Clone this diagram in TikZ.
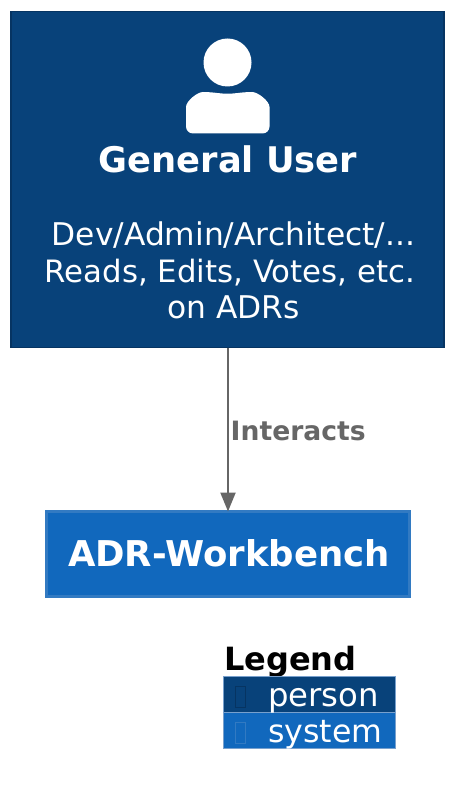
\documentclass[tikz,border=0pt]{standalone}
\usepackage{fontspec}
\setmainfont{DejaVu Sans}
\usetikzlibrary{arrows.meta}
\definecolor{personblue}{RGB}{8,66,122}
\definecolor{personedge}{RGB}{6,52,98}
\definecolor{systemblue}{RGB}{17,104,189}
\definecolor{systemedge}{RGB}{50,122,194}
\definecolor{keyedge}{RGB}{120,160,205}
\definecolor{linegray}{RGB}{102,102,102}
\tikzset{
    boxnode/.style={inner sep=0pt, outer sep=0pt, minimum height=#1},
    textnode/.style={inner sep=0pt, outer sep=0pt, text=white, align=center},
    keynode/.style={inner sep=0pt, outer sep=0pt, anchor=base west, text=white},
}
\begin{document}
\begin{tikzpicture}[x=1pt,y=-1pt]
    \useasboundingbox (0,0) rectangle (455,791);
    \fill[white] (0,0) rectangle (455,791);

    %#1
    \node[boxnode=336pt, minimum width=433pt, draw=personedge, fill=personblue, line width=1.2pt] (user) at (227.5,179.5) {};
    \fill[white] (227.5,62.5) circle (24);
    \fill[white, rounded corners=7pt] (186,133.5) -- (186,114) to [out=90,in=180] (210,92) to [out=-8,in=188] (245,92) to [out=0,in=90] (269.5,114) -- (269.5,133.5) -- cycle;
    \node[textnode, font=\bfseries\fontsize{35.3}{35.3}\selectfont, anchor=base] (usertitle) at (228,173) {General User};
    \node[textnode, font=\fontsize{31.3}{31.3}\selectfont, anchor=base] (userrole) at (233.5,246) {Dev/Admin/Architect/...};
    \node[textnode, font=\fontsize{30.8}{30.8}\selectfont, anchor=base] (useract) at (230,282) {Reads, Edits, Votes, etc.};
    \node[textnode, font=\fontsize{31.3}{31.3}\selectfont, anchor=base] (useradr) at (233.5,318) {on ADRs};

    %#2
    \node[boxnode=85pt, minimum width=363pt, draw=systemedge, fill=systemblue, line width=3pt] (workbench) at (228,554) {};
    \node[textnode, font=\bfseries\fontsize{35.5}{35.5}\selectfont, anchor=base] (workbenchtitle) at (229,566.5) {ADR-Workbench};

    %#3
    \draw[linegray, line width=2.2pt, -{Triangle[length=19pt,width=15pt]}] (user.south -| workbench.north) -- (workbench.north);
    \node[inner sep=0pt, text=linegray, font=\bfseries\fontsize{26.6}{26.6}\selectfont, anchor=base west] (interacts) at (230.5,440) {Interacts};

    %#4
    \node[inner sep=0pt, font=\bfseries\fontsize{32}{32}\selectfont, anchor=base west] (legend) at (224,670) {Legend};
    \fill[personblue] (223.5,676.5) rectangle (395.5,712.5);
    \fill[systemblue] (223.5,712.5) rectangle (395.5,748);
    \draw[keyedge, line width=0.6pt] (223.5,676.5) rectangle (395.5,748);
    \draw[keyedge, line width=0.6pt] (223.5,712.5) -- (395.5,712.5);
    \draw[personedge, line width=1pt] (235.5,686) rectangle (245.5,707);
    \draw[systemedge, line width=1pt] (235.5,722) rectangle (245.5,743);
    \node[keynode, font=\fontsize{32.3}{32.3}\selectfont] (keyperson) at (268,706) {person};
    \node[keynode, font=\fontsize{31.6}{31.6}\selectfont] (keysystem) at (268,742) {system};
\end{tikzpicture}
\end{document}
